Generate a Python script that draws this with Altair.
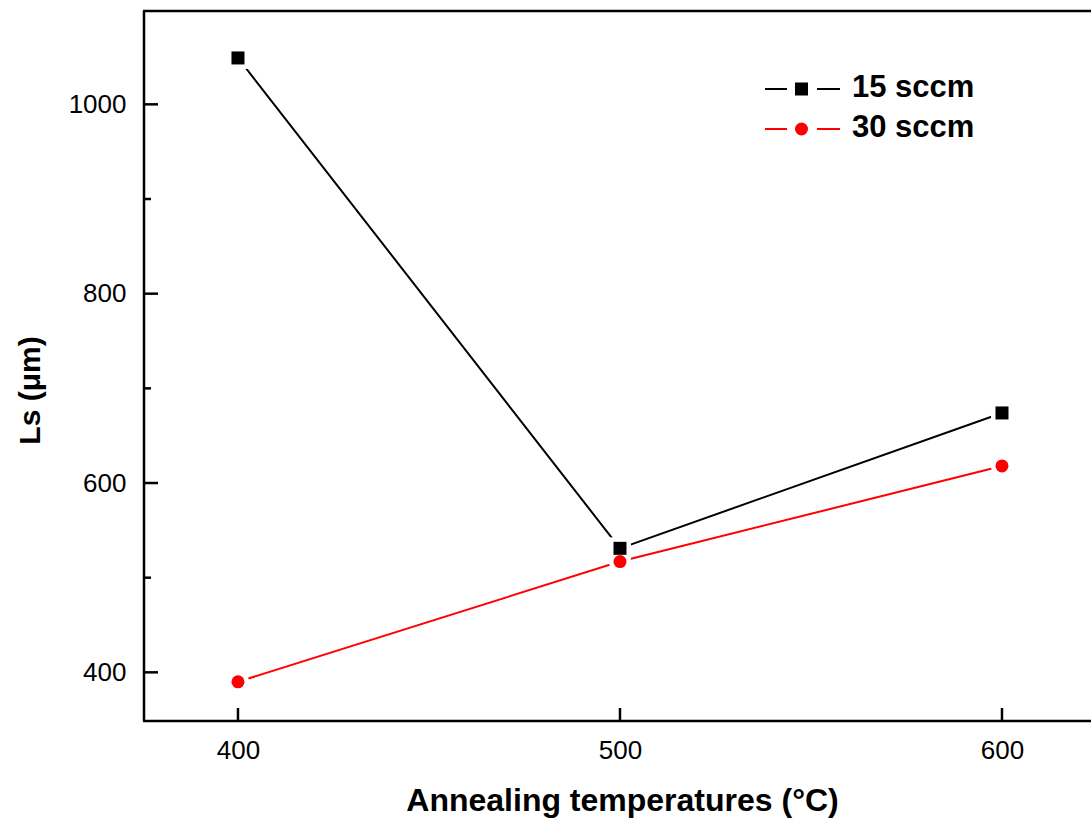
import altair as alt
import pandas as pd

# Annealing temperature (°C) and sheet length Ls (µm) for the two gas flows
temperatures = [400, 500, 600]
ls_15sccm = [1049, 531, 674]
ls_30sccm = [390, 517, 618]
series_names = ["15 sccm", "30 sccm"]
series_colors = ["#000000", "#FF0000"]
series_shapes = ["square", "circle"]

y_major_ticks = [400, 600, 800, 1000]
y_minor_ticks = [500, 700, 900]
x_major_ticks = [400, 500, 600]

rows = []
for name, values in zip(series_names, [ls_15sccm, ls_30sccm]):
    for t, v in zip(temperatures, values):
        rows.append({"temperature": t, "ls": v, "series": name})
df = pd.DataFrame(rows)

W, H = 947, 710
FONT = "Liberation Sans"

x_scale = alt.Scale(domain=[375.4, 623.3], nice=False, zero=False)
y_scale = alt.Scale(domain=[348.6, 1098.6], nice=False, zero=False)
color_scale = alt.Scale(domain=series_names, range=series_colors)
shape_scale = alt.Scale(domain=series_names, range=series_shapes)

x_axis = alt.Axis(
    values=x_major_ticks, format="d", domain=False, ticks=False, grid=False,
    labelFont=FONT, labelFontSize=26, labelColor="black", labelPadding=16,
    title="Annealing temperatures (°C)", titleFont=FONT, titleFontSize=32,
    titleFontWeight="bold", titleColor="black", titleX=478, titleY=89,
    titleBaseline="alphabetic", titleAlign="center",
)
y_axis = alt.Axis(
    values=y_major_ticks, format="d", domain=False, ticks=False, grid=False,
    labelFont=FONT, labelFontSize=26, labelColor="black", labelPadding=18,
    title="Ls (μm)", titleFont=FONT, titleFontSize=30, titleFontWeight="bold",
    titleColor="black", titleX=-105, titleY=379, titleAngle=270,
    titleBaseline="alphabetic", titleAlign="center",
)

base = alt.Chart(df).encode(
    x=alt.X("temperature:Q", scale=x_scale, axis=x_axis),
    y=alt.Y("ls:Q", scale=y_scale, axis=y_axis),
)

lines = base.mark_line(strokeWidth=2).encode(
    color=alt.Color("series:N", scale=color_scale, legend=None),
    detail="series:N",
)

# white halo around each marker leaves a small gap in the connecting line
halos = base.mark_point(filled=True, size=484, opacity=1, color="white").encode(
    shape=alt.Shape("series:N", scale=shape_scale, legend=None),
)

markers = base.mark_point(filled=True, size=169, opacity=1).encode(
    color=alt.Color("series:N", scale=color_scale, legend=None),
    shape=alt.Shape("series:N", scale=shape_scale, legend=None),
)

# frame: left, bottom and top edges (the right edge runs off the page)
frame_df = pd.DataFrame({"k": [0]})
frame = [
    alt.Chart(frame_df).mark_rule(color="black", strokeWidth=2.5).encode(
        x=alt.value(0), y=alt.value(0), y2=alt.value(H)
    ),
    alt.Chart(frame_df).mark_rule(color="black", strokeWidth=2.5).encode(
        x=alt.value(-1), x2=alt.value(W), y=alt.value(H)
    ),
    alt.Chart(frame_df).mark_rule(color="black", strokeWidth=2.5).encode(
        x=alt.value(-1), x2=alt.value(W), y=alt.value(0)
    ),
]

# inward-pointing ticks
y_major = alt.Chart(pd.DataFrame({"v": y_major_ticks})).mark_rule(
    color="black", strokeWidth=2.5
).encode(y=alt.Y("v:Q", scale=y_scale), x=alt.value(0), x2=alt.value(14))
y_minor = alt.Chart(pd.DataFrame({"v": y_minor_ticks})).mark_rule(
    color="black", strokeWidth=2.5
).encode(y=alt.Y("v:Q", scale=y_scale), x=alt.value(0), x2=alt.value(7))
x_major = alt.Chart(pd.DataFrame({"v": x_major_ticks})).mark_rule(
    color="black", strokeWidth=2.5
).encode(x=alt.X("v:Q", scale=x_scale), y=alt.value(H), y2=alt.value(H - 13))

# legend: line - marker - line, then label
legend_layers = []
for i, (name, col, shp) in enumerate(zip(series_names, series_colors, series_shapes)):
    ly = 78 + i * 40
    ld = pd.DataFrame({"label": [name]})
    legend_layers.append(
        alt.Chart(ld).mark_rule(color=col, strokeWidth=2).encode(
            x=alt.value(621), x2=alt.value(643), y=alt.value(ly)
        )
    )
    legend_layers.append(
        alt.Chart(ld).mark_rule(color=col, strokeWidth=2).encode(
            x=alt.value(673), x2=alt.value(696), y=alt.value(ly)
        )
    )
    legend_layers.append(
        alt.Chart(ld).mark_point(filled=True, size=169, opacity=1, color=col, shape=shp).encode(
            x=alt.value(657.5), y=alt.value(ly)
        )
    )
    legend_layers.append(
        alt.Chart(ld).mark_text(
            font=FONT, fontSize=31, fontWeight="bold", color="black",
            align="left", baseline="middle",
        ).encode(x=alt.value(708), y=alt.value(ly - 1), text="label:N")
    )

chart = alt.layer(
    lines, halos, markers, *frame, y_major, y_minor, x_major, *legend_layers
).properties(
    width=W,
    height=H,
    autosize=alt.AutoSizeParams(type="none"),
    padding={"left": 144, "top": 11, "right": 0, "bottom": 102},
    background="white",
).configure_view(stroke=None)

chart.save("out.html", embed_options={"renderer": "svg", "actions": False})
